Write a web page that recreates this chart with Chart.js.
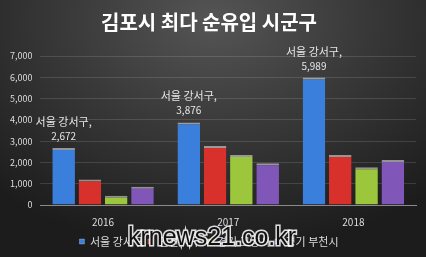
<!DOCTYPE html>
<html>
<head>
<meta charset="utf-8">
<script src="https://cdn.jsdelivr.net/npm/chart.js@4"></script>
<style>
  html, body { margin: 0; padding: 0; }
  body {
    width: 426px; height: 257px; overflow: hidden;
    background: radial-gradient(ellipse 75% 90% at 50% 8%, #555555 0%, #3a3a3a 45%, #1c1c1c 100%);
  }
  #wrap { position: relative; width: 426px; height: 257px; }
</style>
</head>
<body>
<div id="wrap"><canvas id="grafico" width="426" height="257"></canvas></div>
<script>
const anni = ['2016', '2017', '2018'];
const nomiSerie = ['서울 강서구', '인천 서구', '경기 고양시', '경기 부천시'];
const gangseo = [2672, 3876, 5989];
const incheonSeogu = [1200, 2770, 2350];
const goyang = [430, 2350, 1770];
const bucheon = [860, 1960, 2110];
const tickY = [0, 1000, 2000, 3000, 4000, 5000, 6000, 7000];

const colori = ['#3b7fdc', '#d8302a', '#9cc63c', '#8057b8'];
const fontKR = '"Noto Sans CJK KR", "Noto Sans", sans-serif';

// etichette solo sulla prima serie (서울 강서구)
const etichette = {
  id: 'etichette',
  afterDatasetsDraw(chart) {
    const ctx = chart.ctx;
    const meta = chart.getDatasetMeta(0);
    ctx.save();
    ctx.fillStyle = '#e6e6e6';
    ctx.textAlign = 'center';
    ctx.textBaseline = 'alphabetic';
    meta.data.forEach((bar, i) => {
      ctx.font = '11px ' + fontKR;
      ctx.fillText(nomiSerie[0] + ',', bar.x, bar.y - 22);
      ctx.font = '10px ' + fontKR;
      ctx.fillText(gangseo[i].toLocaleString('en-US'), bar.x, bar.y - 8);
    });
    ctx.restore();
  }
};

// watermark
const filigrana = {
  id: 'filigrana',
  afterDraw(chart) {
    const ctx = chart.ctx;
    ctx.save();
    ctx.font = '25px "Liberation Sans", Arial, sans-serif';
    ctx.textAlign = 'center';
    ctx.textBaseline = 'middle';
    ctx.lineWidth = 3;
    ctx.strokeStyle = 'rgba(255,255,255,0.85)';
    ctx.strokeText('krnews21.co.kr', 212, 238);
    ctx.fillStyle = '#111';
    ctx.fillText('krnews21.co.kr', 212, 238);
    ctx.restore();
  }
};

const serie = [gangseo, incheonSeogu, goyang, bucheon];

new Chart(document.getElementById('grafico'), {
  type: 'bar',
  data: {
    labels: anni,
    datasets: serie.map((valori, i) => ({
      label: nomiSerie[i],
      data: valori,
      backgroundColor: colori[i],
      borderColor: 'rgba(255,255,255,0.5)',
      borderWidth: { top: 2, left: 0, right: 0, bottom: 0 },
      categoryPercentage: 0.84,
      barPercentage: 0.86
    }))
  },
  options: {
    responsive: false,
    animation: false,
    layout: { padding: { left: 2, right: 10, top: 0, bottom: 0 } },
    plugins: {
      title: {
        display: true,
        text: '김포시 최다 순유입 시군구',
        color: '#ffffff',
        font: { family: fontKR, size: 20, weight: 'bold' },
        padding: { top: 10, bottom: 22 }
      },
      legend: {
        position: 'bottom',
        labels: {
          color: '#dddddd',
          boxWidth: 5,
          boxHeight: 5,
          padding: 5,
          font: { family: fontKR, size: 11 }
        }
      },
      tooltip: { enabled: false }
    },
    scales: {
      x: {
        grid: { display: false },
        border: { color: '#8a8a8a', width: 1 },
        ticks: { color: '#dddddd', font: { family: fontKR, size: 10 }, padding: 3 }
      },
      y: {
        min: 0,
        max: 7000,
        afterBuildTicks: axis => { axis.ticks = tickY.map(v => ({ value: v })); },
        grid: { color: 'rgba(255,255,255,0.13)', drawTicks: false },
        border: { display: false },
        ticks: {
          color: '#dddddd',
          font: { family: fontKR, size: 9 },
          padding: 8,
          callback: v => v.toLocaleString('en-US')
        }
      }
    }
  },
  plugins: [etichette, filigrana]
});
</script>
</body>
</html>
